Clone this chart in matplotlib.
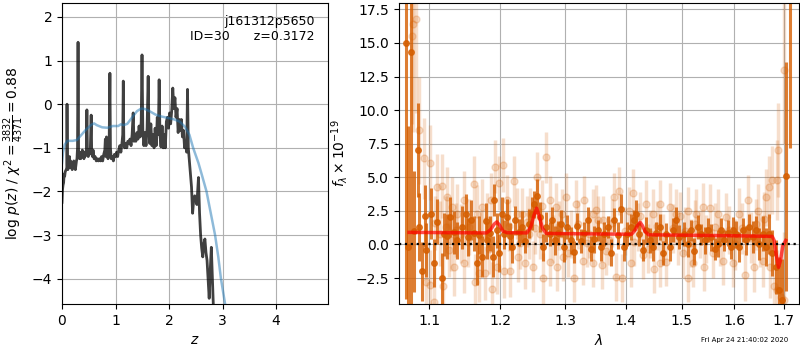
import numpy as np
import matplotlib
matplotlib.use('Agg')
import matplotlib.pyplot as plt
from matplotlib.ticker import FixedLocator, NullLocator, NullFormatter, MultipleLocator

# --- p(z) panel ---
zgrid = [0.000, 0.010, 0.020, 0.030, 0.040, 0.050, 0.060, 0.070, 0.080, 0.090,
         0.094, 0.100, 0.110, 0.120, 0.130, 0.140, 0.150, 0.160, 0.170, 0.180,
         0.190, 0.200, 0.210, 0.220, 0.230, 0.240, 0.250, 0.260, 0.270, 0.280,
         0.290, 0.300, 0.310, 0.320, 0.330, 0.340, 0.350, 0.360, 0.370, 0.380,
         0.390, 0.400, 0.410, 0.420, 0.430, 0.440, 0.455, 0.465, 0.475, 0.490,
         0.500, 0.510, 0.520, 0.530, 0.545, 0.555, 0.570, 0.580, 0.600, 0.620,
         0.640, 0.660, 0.680, 0.700, 0.720, 0.740, 0.760, 0.780, 0.800, 0.810,
         0.820, 0.830, 0.840, 0.860, 0.880, 0.895, 0.905, 0.920, 0.940, 0.960,
         0.980, 1.000, 1.020, 1.040, 1.060, 1.080, 1.100, 1.120, 1.135, 1.145,
         1.155, 1.170, 1.190, 1.210, 1.230, 1.250, 1.270, 1.290, 1.310, 1.330,
         1.345, 1.360, 1.380, 1.400, 1.420, 1.440, 1.460, 1.480, 1.495, 1.510,
         1.530, 1.550, 1.570, 1.590, 1.610, 1.625, 1.640, 1.660, 1.680, 1.700,
         1.720, 1.740, 1.760, 1.780, 1.800, 1.815, 1.830, 1.850, 1.870, 1.890,
         1.910, 1.930, 1.950, 1.970, 1.990, 2.010, 2.030, 2.050, 2.070, 2.090,
         2.110, 2.130, 2.150, 2.170, 2.190, 2.210, 2.230, 2.250, 2.270, 2.290,
         2.310, 2.330, 2.345, 2.360, 2.380, 2.400, 2.420, 2.440, 2.460, 2.480,
         2.500, 2.520, 2.550, 2.570, 2.590, 2.610, 2.630, 2.650, 2.670, 2.690,
         2.710, 2.730, 2.750, 2.770, 2.790, 2.810, 2.830, 2.860, 2.900]
log_pz = [-2.25, -1.95, -1.85, -1.80, -1.60, -1.65, -1.55, -1.52, -1.50, -1.45,
          0.00, -1.40, -1.50, -1.25, -1.45, -1.20, -1.45, -1.30, -1.40, -1.35,
          -1.50, -1.40, -1.45, -1.30, -1.45, -1.35, -1.50, -1.40, -1.30, -1.25,
          -1.00, 1.42, -1.20, -1.10, -1.25, -1.15, -1.25, -1.10, -1.20, -1.05,
          -1.20, -1.15, -1.25, -1.10, -1.20, -1.15, -1.05, -0.13, -1.10, -1.20,
          -1.05, -1.15, -1.10, -1.00, -0.25, -1.10, -1.20, -1.05, -1.25, -1.20,
          -1.30, -1.25, -1.30, -1.25, -1.30, -1.20, -1.30, -1.15, -1.05, -0.80,
          -1.20, -0.75, -1.10, -1.25, -1.00, 0.71, -1.00, -1.25, -1.20, -1.30,
          -1.15, -1.20, -1.10, -1.20, -1.05, -0.95, -1.10, -0.90, -0.70, 0.53,
          -0.85, -1.00, -0.90, -1.00, -0.85, -0.90, -0.80, -0.95, -0.70, -0.20,
          -0.85, -0.70, -0.85, -0.65, -0.80, -0.50, -0.75, -0.40, 1.13, -0.60,
          -0.95, -0.65, -0.95, -0.55, 0.64, -0.60, -0.90, -0.45, -0.95, -0.70,
          -1.00, -0.55, -0.95, -0.30, -0.70, 0.56, -0.70, -0.98, -0.50, -1.00,
          -0.70, -1.00, -0.40, -0.30, -0.55, -0.20, -0.45, -0.15, 0.37, -0.10,
          0.15, -0.30, -0.10, -0.65, -0.35, -0.60, -0.35, -0.75, -0.60, -1.00,
          -0.90, -1.10, 0.34, -1.00, -1.30, -1.60, -1.90, -2.50, -2.20, -2.10,
          -2.20, -2.30, -1.68, -2.50, -3.00, -3.30, -3.50, -3.20, -3.09, -3.40,
          -3.58, -4.00, -4.45, -3.80, -3.28, -4.00, -4.70, -5.50, -6.50]

zprior = [0.00, 0.02, 0.05, 0.10, 0.20, 0.28, 0.35, 0.45, 0.55, 0.60, 0.65,
          0.75, 0.85, 0.95, 1.05, 1.10, 1.15, 1.22, 1.30, 1.40, 1.48, 1.55,
          1.65, 1.75, 1.85, 2.00, 2.10, 2.20, 2.30, 2.38, 2.45, 2.55, 2.62,
          2.70, 2.78, 2.86, 2.92, 2.97, 3.05, 3.10]
log_prior = [-1.35, -1.10, -0.93, -0.84, -0.84, -0.82, -0.72, -0.58, -0.47,
             -0.44, -0.48, -0.53, -0.54, -0.50, -0.50, -0.46, -0.48, -0.45,
             -0.32, -0.16, -0.10, -0.11, -0.17, -0.24, -0.28, -0.32, -0.35,
             -0.40, -0.52, -0.70, -1.00, -1.35, -1.65, -2.00, -2.50, -3.00,
             -3.50, -4.00, -4.60, -5.20]

# --- spectrum panel (G141) ---
dark_wave = [1.069, 1.072, 1.0755, 1.080, 1.0844, 1.0861, 1.0905, 1.0947, 1.096,
             1.1024, 1.1057, 1.1104, 1.1175, 1.1198, 1.1245, 1.1283, 1.134, 1.1387, 1.1444, 1.1505, 1.1529,
             1.1576, 1.1623, 1.1661, 1.1694, 1.1741, 1.1788, 1.1812, 1.185, 1.1892, 1.1916, 1.1953, 1.1977,
             1.2025, 1.206, 1.21, 1.215, 1.2175, 1.2225, 1.2275, 1.2325, 1.2375, 1.2425, 1.2475,
             1.251, 1.256, 1.26, 1.265, 1.27, 1.275, 1.279, 1.284, 1.289, 1.2925, 1.2975,
             1.3028, 1.3083, 1.3139, 1.3195, 1.325, 1.3306, 1.3361, 1.3417, 1.3473,
             1.3528, 1.3584, 1.3639, 1.3695, 1.3751, 1.3806, 1.3862, 1.3917, 1.3973,
             1.403, 1.4089, 1.4149, 1.4179, 1.4238, 1.4298, 1.4357, 1.4417, 1.4476,
             1.4536, 1.4595, 1.4655, 1.4714, 1.4774, 1.4833, 1.4893, 1.4952,
             1.5044, 1.5108, 1.5171, 1.5234, 1.5298, 1.5361, 1.5424, 1.5487,
             1.5551, 1.5614, 1.5677, 1.5741, 1.5804, 1.5867, 1.593, 1.5975,
             1.6027, 1.6094, 1.6161, 1.6228, 1.6295, 1.6362, 1.6429, 1.6497, 1.6564,
             1.6631, 1.6698, 1.6765, 1.6832, 1.6899, 1.6953, 1.705, 1.712]
dark_flux = [14.96, -0.2, 14.3, 1.0, 7.0, 1.3, -2.0, 2.1, -0.4,
             2.3, -1.4, 1.7, -2.5, 0.75, 0.6, 2.05, 0.9, 0.3, 1.3, 2.25, 0.55,
             1.8, 0.85, -1.4, 0.7, -0.9, 1.75, 0.3, 0.85, -0.9, 3.3, 1.05, -0.65,
             2.3, 0.75, 2.05, 0.6, -0.2, 1.8, 0.9, 1.3, 0.25, 1.55, 2.3,
             3.0, 3.58, 2.05, -0.2, 1.3, 0.75, 1.8, 0.3, 0.85, 1.55, -0.2,
             1.3, 0.3, -0.55, 1.35, 0.25, 0.85, 1.8, -0.3, 0.4,
             1.05, -0.2, 0.8, 1.3, -0.6, 1.8, 0.7, 2.67, -0.2,
             0.8, 1.3, 1.8, 2.3, 0.75, -0.4, 1.05, 0.3, -0.2,
             0.85, 1.3, -0.65, 0.8, -0.2, 1.05, 1.8, 0.55,
             0.8, 0.05, 1.05, -0.5, 1.3, 0.75, 0.3, 1.05,
             0.55, -0.35, 0.05, 1.05, 0.3, 0.85, -0.2, 1.05,
             0.75, -0.2, 1.05, 0.3, 1.3, 0.55, 1.05, 0.05, 0.8,
             -0.2, 0.8, -0.65, -1.65, -3.4, -4.1, 5.06, 19.5]
dark_err = [19.0, 9.0, 19.0, 4.5, 3.5, 2.5, 2.2, 2.3, 2.0,
            1.9, 1.8, 1.7, 1.9, 1.6, 1.7, 1.5, 1.6, 1.4, 1.6, 1.5, 1.4,
            1.5, 1.3, 1.6, 1.4, 1.5, 1.3, 1.4, 1.3, 1.5, 1.2, 1.3, 1.4,
            1.2, 1.1, 1.3, 1.0, 1.2, 1.1, 1.0, 1.2, 0.9, 1.1, 1.2,
            1.0, 1.3, 1.1, 1.0, 1.1, 0.9, 1.0, 1.1, 0.9, 1.0, 1.1,
            0.9, 1.0, 0.8, 1.0, 0.9, 0.8, 1.0, 0.9, 1.0,
            0.8, 1.0, 0.9, 0.8, 1.0, 0.9, 1.0, 1.1, 1.0,
            0.9, 1.0, 0.8, 1.0, 0.9, 0.8, 1.0, 0.9, 1.0,
            0.8, 1.0, 0.9, 0.8, 1.0, 0.9, 1.0, 0.9,
            0.9, 1.0, 0.8, 1.0, 0.9, 0.8, 1.0, 0.9,
            1.0, 0.8, 1.0, 0.9, 0.8, 1.0, 0.9, 1.0,
            1.0, 1.1, 0.9, 1.1, 1.0, 1.2, 1.1, 1.2, 1.3,
            1.4, 1.5, 1.7, 2.0, 2.5, 3.0, 8.5, 12.3]

light_wave = [1.0764, 1.0777, 1.0822, 1.0866, 1.0933, 1.0962, 1.1009, 1.1015, 1.1057, 1.1104,
              1.1142, 1.1175, 1.118, 1.1222, 1.1245, 1.1293, 1.1316, 1.134, 1.1387, 1.1434,
              1.1481, 1.1485, 1.1552, 1.1614, 1.1632, 1.167, 1.1694, 1.1741, 1.1774, 1.1812,
              1.1859, 1.1883, 1.192, 1.1953, 1.1977, 1.2035, 1.205, 1.21, 1.215, 1.22,
              1.225, 1.226, 1.2325, 1.2375, 1.2425, 1.245, 1.25, 1.255, 1.26, 1.265,
              1.269, 1.275, 1.276, 1.285, 1.2875, 1.295, 1.296, 1.3017, 1.3083, 1.3139,
              1.3167, 1.3278, 1.3306, 1.3378, 1.3445, 1.3456, 1.3528, 1.36, 1.3611, 1.3723,
              1.3806, 1.3834, 1.389, 1.3945, 1.4089, 1.4119, 1.4208, 1.4298, 1.4357, 1.4417,
              1.4476, 1.4488, 1.4595, 1.4607, 1.4714, 1.4774, 1.4893, 1.4923, 1.5013, 1.5108,
              1.512, 1.5203, 1.5266, 1.5329, 1.5392, 1.5405, 1.5519, 1.5582, 1.5677, 1.5772,
              1.5836, 1.5962, 1.6094, 1.6215, 1.6262, 1.6396, 1.6463, 1.6564, 1.6631, 1.6698,
              1.6711, 1.6765, 1.6799, 1.6852, 1.6866, 1.6886, 1.6933, 1.7, 1.7005,
              1.108, 1.1265, 1.1365, 1.153, 1.172, 1.184, 1.2125, 1.23, 1.24, 1.2525,
              1.2625, 1.28, 1.29, 1.305, 1.32, 1.335, 1.35, 1.366, 1.376, 1.399,
              1.405, 1.415, 1.425, 1.439, 1.454, 1.465, 1.483, 1.496, 1.506, 1.516,
              1.524, 1.546, 1.563, 1.572, 1.59, 1.602, 1.615, 1.632, 1.642, 1.652, 1.66]
light_flux = [15.5, 16.4, 16.8, 8.5, 6.4, -2.8, 6.1, -3.0, -4.25, 4.3,
              0.8, 4.35, -3.1, 1.3, 3.5, 0.3, 2.8, -1.65, 2.3, 0.8,
              3.3, -1.4, 1.3, 4.5, -2.8, 2.3, -2.15, 2.8, -2.15, 1.8,
              3.3, -3.3, 5.8, -1.65, 4.6, 5.9, -2.0, 3.3, -2.0, 4.7,
              2.3, -0.9, 2.3, -1.4, 0.8, 2.3, -1.65, 5.0, 0.8, -2.5,
              6.5, 3.3, -1.3, 2.8, -1.65, 2.3, -0.9, 3.5, 0.8, -2.5,
              3.0, -1.2, 3.3, 0.8, 2.3, -1.4, 1.8, -1.5, 1.8, 0.3,
              3.5, -2.4, 4.0, -2.5, -1.4, 3.8, 1.3, -0.8, 3.0, 0.8,
              2.3, -1.8, 3.0, -1.4, -1.3, 2.8, 2.3, 0.3, -0.67, 2.5,
              -2.5, -1.4, 2.3, 0.8, 2.8, -1.65, 2.7, -0.67, 2.3, -1.2,
              2.05, -1.4, 2.3, -2.3, 3.3, -1.65, 2.5, -1.2, 3.5, 4.3,
              -1.65, 4.8, -3.1, 4.8, -3.4, 7.0, -3.9, 13.0, -4.1,
              1.6, -0.4, 1.1, 0.2, 0.6, -0.3, 1.4, 0.1, 1.7, 1.2,
              2.9, 0.4, 1.4, -0.6, 1.5, 0.1, 2.6, -0.5, 1.6, 1.0,
              2.5, 0.2, 2.1, -0.3, 1.4, 0.5, 1.2, 2.1, 1.0, 0.1,
              1.5, 0.4, 1.3, 0.2, 1.1, 0.0, 1.2, 0.5, 1.5, 0.3, 1.9]
light_err = [6.5, 8.0, 7.0, 4.0, 3.0, 2.8, 2.8, 2.6, 2.6, 2.4,
             2.4, 2.4, 2.4, 2.3, 2.3, 2.3, 2.2, 2.2, 2.2, 2.2,
             2.2, 2.2, 2.1, 2.1, 2.1, 2.1, 2.1, 2.1, 2.0, 2.0,
             2.0, 2.0, 2.0, 2.0, 2.0, 2.0, 2.0, 1.9, 1.9, 1.9,
             1.9, 1.9, 1.9, 1.9, 1.9, 1.9, 1.9, 1.9, 1.9, 1.9,
             1.9, 1.8, 1.8, 1.8, 1.8, 1.8, 1.8, 1.8, 1.8, 1.8,
             1.8, 1.8, 1.8, 1.8, 1.8, 1.8, 1.8, 1.8, 1.8, 1.8,
             1.8, 1.8, 1.8, 1.8, 1.8, 1.8, 1.8, 1.8, 1.8, 1.8,
             1.8, 1.8, 1.8, 1.8, 1.8, 1.8, 1.8, 1.8, 1.8, 1.8,
             1.8, 1.8, 1.8, 1.8, 1.8, 1.8, 1.8, 1.8, 1.8, 1.8,
             1.8, 1.8, 1.9, 1.9, 1.9, 1.9, 2.0, 2.0, 2.1, 2.3,
             2.3, 2.5, 2.6, 3.0, 3.0, 3.5, 4.0, 5.5, 5.0,
             2.0, 2.0, 2.0, 1.9, 1.9, 1.9, 1.9, 1.9, 1.9, 1.9,
             1.9, 1.8, 1.8, 1.8, 1.8, 1.8, 1.8, 1.8, 1.8, 1.8,
             1.8, 1.8, 1.8, 1.8, 1.8, 1.8, 1.8, 1.8, 1.8, 1.8,
             1.8, 1.8, 1.8, 1.8, 1.8, 1.9, 1.9, 1.9, 1.9, 2.0, 2.0]

model_wave = [1.073, 1.180, 1.186, 1.191, 1.195, 1.199, 1.204, 1.210, 1.240,
              1.246, 1.251, 1.255, 1.259, 1.264, 1.270, 1.410, 1.416, 1.421,
              1.425, 1.429, 1.434, 1.440, 1.600, 1.676, 1.680, 1.684, 1.689,
              1.693, 1.698, 1.704]
model_flux = [0.90, 0.86, 1.10, 1.50, 1.68, 1.45, 1.00, 0.88, 0.86,
              1.30, 2.20, 2.70, 2.10, 1.20, 0.82, 0.76, 1.05, 1.45,
              1.65, 1.40, 0.95, 0.72, 0.65, 0.60, 0.30, -0.70, -1.70,
              -1.20, -0.10, 0.30]

g141 = (0.835, 0.369, 0.0)

fig = plt.figure(figsize=(8, 3.5), dpi=100)
ax = fig.add_axes([62/800, 46/350, 266/800, 301/350])
ax2 = fig.add_axes([399/800, 46/350, 400/800, 301/350])

# p(z)
ax.plot(zgrid, log_pz, color='k', alpha=0.75, lw=2)
ax.plot(zprior, log_prior, color='#1f77b4', alpha=0.5, lw=1.8)
ax.set_xlim(0, 4.97)
ax.set_ylim(-4.58, 2.32)
ax.set_xticks([0, 1, 2, 3, 4])
ax.set_yticks([-4, -3, -2, -1, 0, 1, 2])
ax.grid()
ax.set_xlabel('$z$')
ax.set_ylabel(r'log $p(z)$ / $\chi^2=\frac{3832}{4371}=0.88$')
ax.text(0.95, 0.96, 'j161312p5650\nID=30      z=0.3172', ha='right', va='top',
        transform=ax.transAxes, fontsize=9)

# spectrum
ax2.errorbar(light_wave, light_flux, light_err, marker='o', ms=5, linestyle='None',
             color=g141, alpha=0.2, elinewidth=2.5)
ax2.errorbar(dark_wave, dark_flux, dark_err, marker='o', ms=4, linestyle='None',
             color=g141, alpha=0.8, elinewidth=2.2)
ax2.plot(model_wave, model_flux, color='r', alpha=0.7, lw=2.5, zorder=10)
ax2.plot([1.0598, 1.732], [0, 0], color='k', linestyle=':', lw=1.6, zorder=11)
ax2.set_xscale('log')
ax2.set_xlim(1.0598, 1.732)
ax2.set_ylim(-4.43, 17.97)
ax2.xaxis.set_major_locator(FixedLocator([1.1, 1.2, 1.3, 1.4, 1.5, 1.6, 1.7]))
ax2.set_xticklabels(['1.1', '1.2', '1.3', '1.4', '1.5', '1.6', '1.7'])
ax2.xaxis.set_minor_locator(NullLocator())
ax2.xaxis.set_minor_formatter(NullFormatter())
ax2.yaxis.set_major_locator(MultipleLocator(2.5))
ax2.grid()
ax2.set_xlabel(r'$\lambda$')
ax2.set_ylabel(r'$f_\lambda\times10^{-19}$')

fig.text(0.985, 0.02, 'Fri Apr 24 21:40:02 2020', ha='right', va='bottom', fontsize=5)

fig.savefig('out.png', dpi=100)
